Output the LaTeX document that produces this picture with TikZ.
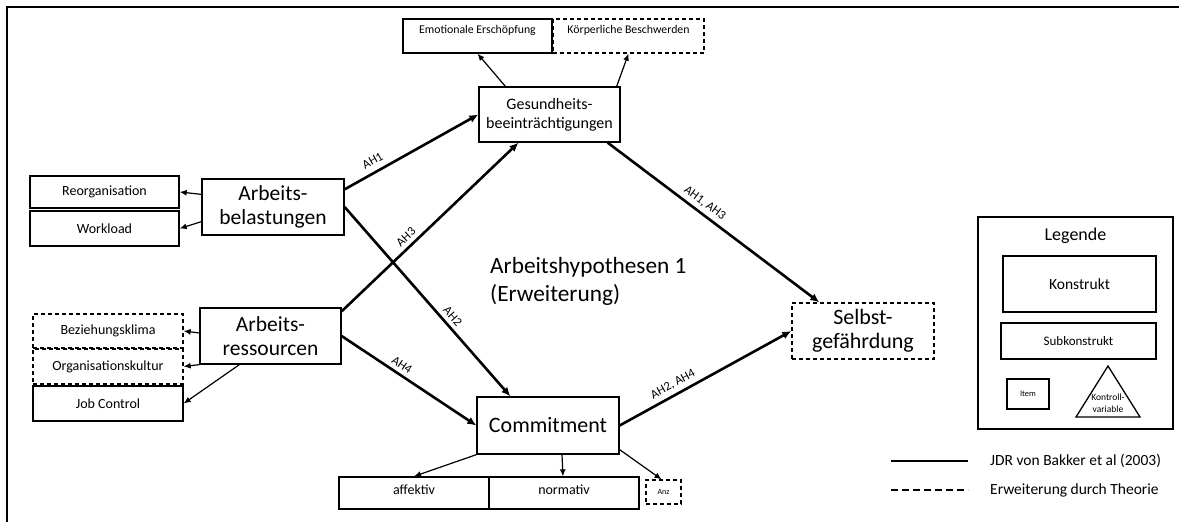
\documentclass[tikz,border=0pt]{standalone}
\usepackage{fontspec}
\setmainfont{Carlito}
\usetikzlibrary{arrows.meta,calc}
\tikzset{
  box/.style={draw, line width=1.3pt, rectangle, inner sep=0pt, align=center},
  dbox/.style={box, dash pattern=on 4pt off 3pt},
  big/.style={font=\fontsize{21.5}{23.5}\selectfont},
  mid/.style={font=\fontsize{16}{19}\selectfont},
  sub/.style={font=\fontsize{14}{17}\selectfont},
  tiny/.style={font=\fontsize{11.8}{14}\selectfont},
  main/.style={line width=2.6pt, -{Latex[length=9pt,width=8pt]}},
  thin/.style={line width=1.2pt, -{Latex[length=7pt,width=6pt]}},
  lab/.style={font=\fontsize{12.5}{14}\selectfont, sloped, above, inner sep=4pt}
}
\begin{document}
\begin{tikzpicture}[x=1pt,y=-1pt]
\useasboundingbox (0,0) rectangle (1179,522);
\fill[white] (0,0) rectangle (1179,522);
% frame (cut at right and bottom)
\draw[line width=2.6pt] (1185,7) -- (7,7) -- (7,530);

% nodes
\node[box,sub,minimum width=149pt,minimum height=32pt] (reorg) at (104.5,192) {Reorganisation};
\node[box,sub,minimum width=149pt,minimum height=35pt] (work) at (104.5,228.5) {Workload};
\node[box,big,minimum width=142pt,minimum height=56pt] (bel) at (273,207) {Arbeits-\\belastungen};

\node[box,tiny,minimum width=149pt,minimum height=34pt,text depth=14pt] (emot) at (477.5,36) {Emotionale Ersch\"opfung};
\node[dbox,tiny,minimum width=151pt,minimum height=34pt,text depth=14pt] (koerp) at (628.5,36) {K\"orperliche Beschwerden};
\node[box,mid,minimum width=141pt,minimum height=55pt] (ges) at (549.5,114.5) {Gesundheits-\\beeintr\"achtigungen};

\node[box,big,minimum width=141pt,minimum height=56pt] (ress) at (270.5,336) {Arbeits-\\ressourcen};
\node[dbox,sub,minimum width=150pt,minimum height=34pt] (bez) at (108,331) {Beziehungsklima};
\node[dbox,sub,minimum width=150pt,minimum height=35pt] (org) at (108,366.5) {Organisationskultur};
\node[box,sub,minimum width=150pt,minimum height=35pt] (job) at (108,403.5) {Job Control};

\node[box,font=\fontsize{22}{24}\selectfont,minimum width=142pt,minimum height=57pt] (com) at (548,425.5) {Commitment};
\node[box,sub,minimum width=150pt,minimum height=32pt,text depth=6pt] (aff) at (414,493) {affektiv};
\node[box,sub,minimum width=150pt,minimum height=32pt,text depth=6pt] (norm) at (564,493) {normativ};
\node[dbox,font=\fontsize{8}{9}\selectfont,minimum width=35pt,minimum height=24pt] (anz) at (663.5,492) {Anz};

\node[dbox,font=\fontsize{22}{24}\selectfont,minimum width=142pt,minimum height=56pt] (selbst) at (863,331) {Selbst-\\gef\"ahrdung};

\node[font=\fontsize{23.3}{28}\selectfont,align=left,anchor=west,inner sep=0pt] (title) at (490,281) {Arbeitshypothesen 1\\(Erweiterung)};

% legend
\node[box,minimum width=195pt,minimum height=212pt] (leg) at (1075.5,323) {};
\node[font=\fontsize{18}{20}\selectfont] (legt) at (1075.5,236) {Legende};
\node[box,font=\fontsize{15.5}{18}\selectfont,minimum width=153pt,minimum height=56pt] (konst) at (1079.5,284) {Konstrukt};
\node[box,font=\fontsize{13}{15}\selectfont,minimum width=155pt,minimum height=36pt] (subk) at (1078.5,341) {Subkonstrukt};
\node[box,font=\fontsize{8.5}{10}\selectfont,minimum width=42pt,minimum height=30pt] (item) at (1028,394) {Item};
\draw[line width=1.3pt, line join=miter] (1108,366) -- (1140,417) -- (1076,417) -- cycle;
\node[font=\fontsize{9.5}{11.5}\selectfont,align=center,inner sep=0pt] (kv) at (1108,403) {Kontroll-\\variable};

\draw[line width=1.3pt] (891,461) -- (968,461);
\draw[line width=1.3pt, dash pattern=on 7pt off 4pt] (891,490) -- (968,490);
\node[font=\fontsize{15.5}{18}\selectfont,anchor=west,inner sep=0pt] (l1) at (990,461) {JDR von Bakker et al (2003)};
\node[font=\fontsize{15.5}{18}\selectfont,anchor=west,inner sep=0pt] (l2) at (990,490) {Erweiterung durch Theorie};

% main connectors
\draw[main] ([yshift=-11pt]bel.north east) -- node[lab,pos=0.25,inner sep=6pt] {AH1} (ges.west);
\draw[main] (bel.east) -- node[lab,pos=0.61] {AH2} ([xshift=34pt]com.north west);
\draw[main] ([yshift=-4pt]ress.north east) -- node[lab,pos=0.4] {AH3} ([xshift=-31pt]ges.south);
\draw[main] (ress.east) -- node[lab,pos=0.41] {AH4} (com.west);
\draw[main] ([xshift=-13pt]ges.south east) -- node[lab,pos=0.43] {AH1, AH3} ([xshift=28pt]selbst.north west);
\draw[main] (com.east) -- node[lab,pos=0.34] {AH2, AH4} (selbst.west);

% sub arrows
\draw[thin] ([yshift=-16pt]bel.north west) -- (reorg.east);
\draw[thin] ([yshift=14pt]bel.south west) -- (work.east);
\draw[thin] ([yshift=3pt]ress.west) -- (bez.east);
\draw[thin] (ress.south west) -- (org.east);
\draw[thin] ([xshift=40pt]ress.south west) -- (job.east);
\draw[thin] ([xshift=27pt]ges.north west) -- (emot.south);
\draw[thin] ([xshift=-4pt]ges.north east) -- (koerp.south);
\draw[thin] (com.south west) -- (aff.north);
\draw[thin] ([xshift=14pt]com.south) -- ([xshift=-1pt]norm.north);
\draw[thin] ([yshift=5pt]com.south east) -- ([xshift=-2pt]anz.north);
\end{tikzpicture}
\end{document}
